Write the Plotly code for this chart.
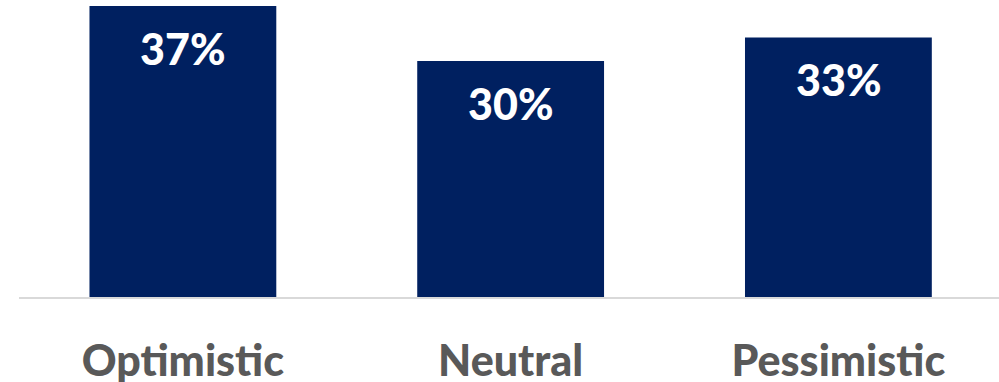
import plotly.graph_objects as go

# Share of respondents by outlook
categories = ["Optimistic", "Neutral", "Pessimistic"]
shares = [37, 30, 33]
value_labels = [f"{v}%" for v in shares]

BAR_COLOR = "#002060"
TEXT_GRAY = "#595959"
FONT = "Lato"

fig = go.Figure(
    go.Bar(
        x=categories,
        y=shares,
        marker=dict(color=BAR_COLOR, line=dict(width=0)),
        width=0.57,
        hoverinfo="skip",
    )
)

# Percent labels sit inside each bar, a fixed distance below its top
for cat, val, lab in zip(categories, shares, value_labels):
    fig.add_annotation(
        x=cat, y=val, text=lab, showarrow=False,
        yanchor="middle", yshift=-42,
        font=dict(family=FONT, size=43, color="white", weight=900),
    )

fig.update_layout(
    width=999, height=382,
    margin=dict(l=19, r=0, t=6, b=85),
    paper_bgcolor="white", plot_bgcolor="white",
    showlegend=False,
    xaxis=dict(
        range=[-0.5, 2.49],
        showline=True, linecolor="#d9d9d9", linewidth=2,
        showgrid=False, zeroline=False,
        tickfont=dict(family=FONT, size=43, color=TEXT_GRAY, weight=900),
        ticks="", ticklabelstandoff=25, automargin=False,
    ),
    yaxis=dict(
        range=[0, 37], visible=False, showgrid=False, zeroline=False,
        automargin=False,
    ),
)

fig.write_html("out.html")
